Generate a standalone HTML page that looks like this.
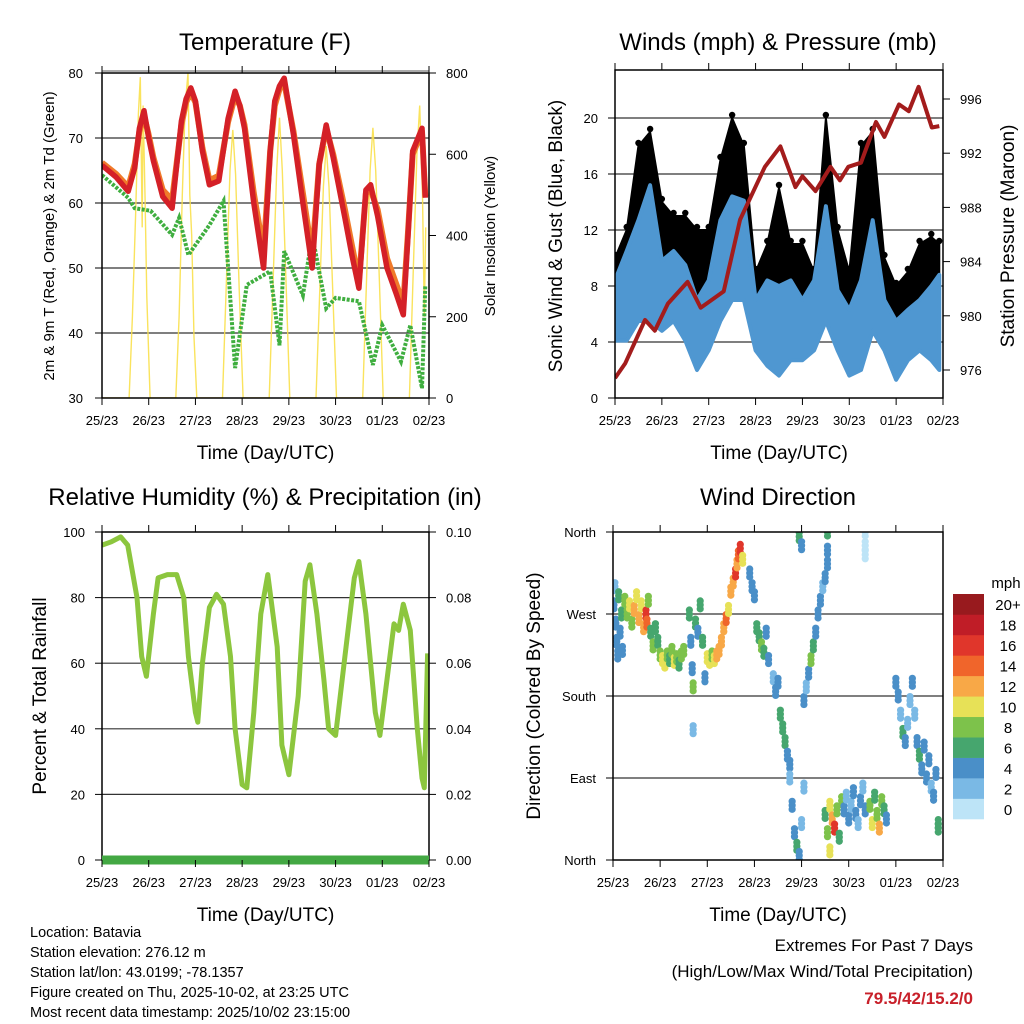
<!DOCTYPE html>
<html><head><meta charset="utf-8"><style>
html,body{margin:0;padding:0;background:#fff;}
svg{display:block;font-family:"Liberation Sans",Arial,sans-serif;}
</style></head><body>
<svg id="chart" width="1024" height="1024" viewBox="0 0 1024 1024" xmlns="http://www.w3.org/2000/svg">
<defs>
<clipPath id="c1"><rect x="102" y="73" width="327" height="325"/></clipPath>
<clipPath id="c2"><rect x="615" y="70" width="328" height="328"/></clipPath>
<clipPath id="c3"><rect x="102" y="532" width="327" height="328"/></clipPath>
<clipPath id="c4"><rect x="613" y="532" width="330" height="328"/></clipPath>
</defs>
<g id="root"></g>
</svg>
<script>
// ---------- DATA ----------
const dayLabels = ["25/23","26/23","27/23","28/23","29/23","30/23","01/23","02/23"];
// Temperature (F)
const tempT = [0,0.3,0.56,0.7,0.8,0.9,1.0,1.1,1.3,1.5,1.7,1.8,1.9,2.0,2.15,2.3,2.5,2.7,2.85,2.95,3.05,3.25,3.46,3.6,3.7,3.8,3.9,4.1,4.3,4.5,4.65,4.8,4.95,5.2,5.35,5.5,5.65,5.75,5.9,6.1,6.3,6.45,6.55,6.65,6.85,6.92];
const tempRed = [65.8,64,61.8,65.4,71.5,74.2,70,66.5,61,59.2,72.6,76,77.7,75.7,68,62.8,63.4,73,77.2,75,71.5,60,50,68,75.7,78,79.2,70.5,60,50,66,72,67,57.7,52,46.9,62,62.8,58,50,46,42.8,55,68,71.5,60.8];
const tempOrange = [66.2,64.5,62.5,66,71,73.5,70.5,67,62,60.5,72,75.5,77,75.5,68.5,63.5,64.2,72.5,76.5,75,72,61.5,52.5,68,75,77.5,78.5,71,61.5,52,66,71.5,67.5,59,53.5,48,61.5,62,59,51.5,47.5,44.5,55.5,67.5,71,61];
const dewT = [0,0.56,0.7,1.04,1.5,1.65,1.85,2.3,2.6,2.85,3.1,3.6,3.8,3.9,4.3,4.5,4.8,5.0,5.5,5.8,6.0,6.4,6.6,6.85,6.92];
const dewVal = [64.3,60.8,59.2,58.8,55.1,57.7,52,56.6,60.3,34.6,47.4,49.5,38.1,52.6,45.8,55.1,43.8,45.4,44.9,35.1,41.2,35.6,41.2,31.5,47.4];
const solarT = [0,0.58,0.65,0.72,0.78,0.82,0.86,0.88,0.92,0.96,1.03,1.58,1.65,1.72,1.78,1.84,1.88,1.92,1.97,2.03,2.58,2.66,2.74,2.8,2.86,2.94,3.02,3.58,3.66,3.74,3.8,3.86,3.94,4.02,4.58,4.66,4.74,4.8,4.86,4.94,5.02,5.58,5.66,5.74,5.8,5.86,5.94,6.02,6.58,6.66,6.74,6.8,6.86,6.9,6.93];
const solarW = [0,0,200,450,700,790,420,720,500,250,0,0,200,500,720,800,500,400,150,0,0,280,560,660,550,260,0,0,280,560,690,560,280,0,0,260,520,620,520,260,0,0,280,560,665,560,280,0,0,300,600,720,500,200,420];
// Winds (mph) & Pressure (mb)
const windT = [0,0.25,0.5,0.75,1.0,1.25,1.5,1.75,2.0,2.25,2.5,2.75,3.0,3.25,3.5,3.75,4.0,4.25,4.5,4.75,5.0,5.25,5.5,5.75,6.0,6.25,6.5,6.75,6.92];
const windLo = [4.1,4.1,5.5,5.5,4.8,5.5,4.1,2.0,3.4,5.5,7,7,3.4,2.3,1.6,2.7,2.7,3.4,5.5,3.4,1.6,2.0,4.8,3.4,1.3,2.7,3.4,2.7,2.0];
const windHi = [8.4,10.5,12.7,15.2,9.8,10.5,9.5,7,8.4,12.7,14.4,14.1,7,8.4,8,8.4,7,8.4,13.7,7.7,6.3,8.4,12.7,7,5.5,6.3,7,8,8.8];
const gustLo = [7,6,10,9,7,8,7,6,7,10,12,9,5,5,7,5,5,5,9,5,4,8,9,4,4,4,5,6,5];
const gustHi = [10,12,18,19,14,13,13,12,12,17,20,18,9,11,15,11,11,9,20,12,9,18,19,10,8,9,11,11.5,11];
const presT = [0,0.22,0.64,0.85,1.13,1.55,1.83,2.32,2.67,3.2,3.53,3.85,4.0,4.28,4.6,4.8,4.98,5.25,5.57,5.75,6.06,6.27,6.48,6.76,6.92];
const presVal = [975.4,976.5,979.7,978.9,980.9,982.5,980.6,981.8,987.1,991,992.5,989.5,990.3,989.2,991,990,991,991.3,994.3,993.2,995.6,995.1,996.9,993.9,994];
// Relative humidity (%)
const rhT = [0,0.2,0.4,0.55,0.75,0.85,0.95,1.1,1.2,1.4,1.6,1.75,1.85,2.0,2.05,2.15,2.3,2.45,2.6,2.75,2.85,3.0,3.1,3.25,3.4,3.55,3.75,3.85,4.0,4.2,4.35,4.45,4.6,4.75,4.85,5.0,5.2,5.4,5.5,5.65,5.85,5.95,6.1,6.25,6.35,6.45,6.6,6.75,6.85,6.9,6.97];
const rhVal = [96,97,98.5,96,80,62,56,75,86,87,87,80,62,45,42,60,77,81,78,62,40,23,22,45,75,87,65,35,26,50,85,90,75,55,40,38,62,86,91,75,45,38,55,72,70,78,70,40,25,22,63];
const precipT = [0,7];
const precipVal = [0,0];
// Wind direction: time(days), direction(deg), speed(mph)
const dirT = [0.02,0.04,0.06,0.08,0.1,0.12,0.15,0.18,0.2,0.25,0.3,0.35,0.4,0.45,0.5,0.55,0.6,0.65,0.7,0.72,0.75,0.8,0.85,0.9,0.95,1.0,1.05,1.1,1.15,1.2,1.25,1.3,1.35,1.4,1.45,1.5,1.62,1.65,1.68,1.7,1.75,1.8,1.85,1.9,1.95,1.7,2.0,2.05,2.1,2.15,2.2,2.25,2.3,2.35,2.4,2.45,2.5,2.55,2.6,2.63,2.66,2.7,2.75,2.9,2.95,3.0,3.05,3.1,3.15,3.2,3.25,3.3,3.4,3.45,3.5,3.55,3.6,3.65,3.7,3.75,3.75,3.8,3.85,3.9,3.95,4.0,4.05,3.95,4.0,4.55,4.55,4.05,4.1,4.15,4.2,4.25,4.3,4.35,4.4,4.45,4.5,4.55,4.5,4.55,4.6,4.65,4.7,4.75,4.8,4.85,4.6,4.9,4.95,5.0,5.05,5.1,5.15,5.2,5.25,5.3,5.35,5.45,5.5,5.55,5.6,5.65,5.7,5.75,5.8,5.35,5.35,5.35,6.0,6.05,6.1,6.15,6.2,6.25,6.3,6.35,6.4,6.45,6.5,6.55,6.6,6.65,6.7,6.75,6.8,6.85,6.9,6.9];
const dirDeg = [280,300,260,240,225,290,250,270,230,285,270,280,260,275,290,265,280,255,270,260,285,250,235,255,240,225,220,215,225,220,230,218,222,215,225,230,270,240,210,190,260,250,280,240,200,143,222,218,225,220,225,230,240,255,265,275,295,305,315,325,335,342,330,315,300,290,255,245,235,228,250,220,200,185,195,160,145,130,115,105,90,60,30,15,5,40,80,355,345,360,340,175,190,205,220,235,250,270,285,300,310,325,50,30,60,45,35,55,25,65,10,55,70,45,60,75,50,40,65,80,55,60,40,70,50,35,65,55,45,360,345,335,195,180,160,140,130,150,175,195,160,130,115,100,125,90,110,80,70,95,35,40];
const dirSpd = [4,3,4,5,4,6,5,7,4,8,9,10,8,12,11,13,10,12,16,15,9,7,8,6,7,9,10,10,8,7,9,10,8,6,9,8,6,4,5,8,7,5,6,6,5,2,10,10,9,11,12,13,12,13,14,11,12,13,16,12,14,17,10,4,4,5,6,7,8,6,5,4,3,5,4,6,7,6,5,4,3,4,5,6,4,3,2,6,4,6,4,4,3,5,8,6,5,4,4,3,4,4,7,9,10,12,16,8,7,9,10,4,3,4,2,4,4,2,4,3,4,8,10,7,9,12,8,6,4,1,1,1,4,4,3,6,4,2,2,4,3,4,6,4,5,4,4,3,4,4,6,7];
const cbLabels = ["0","2","4","6","8","10","12","14","16","18","20+"];
const cbColors = ["#bde4f7","#7ab9e5","#4a8fc8","#46a66e","#7dc24b","#e7e157","#f8a847","#f0652b","#e0362b","#c01d27","#981a1e"];

// ---------- HELPERS ----------
const NS="http://www.w3.org/2000/svg";
const root=document.getElementById('root');
function mk(tag,attrs,parent){const e=document.createElementNS(NS,tag);for(const k in attrs)e.setAttribute(k,attrs[k]);(parent||root).appendChild(e);return e;}
function txt(s,x,y,size,anchor,parent,extra){const e=mk('text',Object.assign({x:x,y:y,'font-size':size,'text-anchor':anchor||'middle',fill:'#000'},extra||{}),parent);e.textContent=s;return e;}
function lin(d0,d1,r0,r1){return v=>r0+(v-d0)*(r1-r0)/(d1-d0);}
function poly(xs,ys){return xs.map((x,i)=>x.toFixed(1)+','+ys[i].toFixed(1)).join(' ');}

function frame(g,x0,x1,y0,y1){
  const f=mk('rect',{x:x0,y:y0,width:x1-x0,height:y1-y0,fill:'none',stroke:'#000','stroke-width':1.5},g);
  
  
}
function xAxis(g,x0,x1,y0,y1){
  const xs=lin(0,7,x0,x1);
  dayLabels.forEach((d,i)=>{
    const x=xs(i);
    mk('line',{x1:x,x2:x,y1:y1,y2:y1+7,stroke:'#000','stroke-width':1},g);
    mk('line',{x1:x,x2:x,y1:y0,y2:y0-7,stroke:'#000','stroke-width':1},g);
    const t=txt(d,x,y1+27,13,'middle',g);
    
    
  });
  const a=txt('Time (Day/UTC)',(x0+x1)/2,y1+61,19,'middle',g);
  
  
}
function hgrid(g,x0,x1,y,col){mk('line',{x1:x0,x2:x1,y1:y,y2:y,stroke:col||'#222','stroke-width':1.2},g);}

// ---------- PANEL 1: TEMPERATURE ----------
(function(){
  const g=mk('g',{});
  
  
  const x0=102,x1=429,y0=73,y1=398;
  const xs=lin(0,7,x0,x1), ys=lin(30,80,y1,y0), ysr=lin(0,800,y1,y0);
  [40,50,60,70].forEach(v=>hgrid(g,x0,x1,ys(v),'#333'));
  mk('line',{x1:x0,x2:x1,y1:y0-2,y2:y0-2,stroke:'#555','stroke-width':1},g);
  const pc=mk('g',{'clip-path':'url(#c1)'},g);
  const sol=mk('polyline',{points:poly(solarT.map(xs),solarW.map(ysr)),fill:'none',stroke:'#f9e04b','stroke-width':1.4,'stroke-opacity':0.9},pc);
  
  
  const dew=mk('polyline',{points:poly(dewT.map(xs),dewVal.map(ys)),fill:'none',stroke:'#3fae3f','stroke-width':4,'stroke-dasharray':'3 1.5'},pc);
  
  
  const or=mk('polyline',{points:poly(tempT.map(xs),tempOrange.map(ys)),fill:'none',stroke:'#f07a2a','stroke-width':6,'stroke-linejoin':'round'},pc);
  
  
  const rd=mk('polyline',{points:poly(tempT.map(xs),tempRed.map(ys)),fill:'none',stroke:'#d42027','stroke-width':5.5,'stroke-linejoin':'round'},pc);
  
  
  frame(g,x0,x1,y0,y1);
  [30,40,50,60,70,80].forEach(v=>{
    mk('line',{x1:x0-7,x2:x0,y1:ys(v),y2:ys(v),stroke:'#000'},g);
    const t=txt(String(v),x0-19,ys(v)+5,13,'end',g);
    
    
  });
  [0,200,400,600,800].forEach(v=>{
    mk('line',{x1:x1,x2:x1+7,y1:ysr(v),y2:ysr(v),stroke:'#000'},g);
    const t=txt(String(v),x1+17,ysr(v)+5,13,'start',g);
    
    
  });
  xAxis(g,x0,x1,y0,y1);
  const ti=txt('Temperature (F)',265,50,24,'middle',g);
  
  
  const yl=txt('2m & 9m T (Red, Orange) & 2m Td (Green)',0,0,15,'middle',g,{transform:'translate(54,236) rotate(-90)'});
  
  
  const yr=txt('Solar Insolation (Yellow)',0,0,15,'middle',g,{transform:'translate(495,236) rotate(-90)'});
  
  
})();

// ---------- PANEL 2: WINDS & PRESSURE ----------
(function(){
  const g=mk('g',{});
  
  
  const x0=615,x1=943,y0=70,y1=398;
  const xs=lin(0,7,x0,x1), ys=lin(0,4,y1,342), ysr=lin(976,996,370,99);
  [4,8,12,16,20].forEach(v=>hgrid(g,x0,x1,ys(v),'#333'));
  const pc=mk('g',{'clip-path':'url(#c2)'},g);
  const gp=mk('polygon',{points:poly(windT.map(xs).concat(windT.map(xs).reverse()),gustHi.map(ys).concat(gustLo.map(ys).reverse())),fill:'#000',stroke:'#000','stroke-width':2,'stroke-linejoin':'round'},pc);
  
  
  windT.forEach((t,i)=>{
    const c=mk('circle',{cx:xs(t),cy:ys(gustHi[i])-3,r:3.2,fill:'#000'},pc);
    
    
  });
  const wp=mk('polygon',{points:poly(windT.map(xs).concat(windT.map(xs).reverse()),windHi.map(ys).concat(windLo.map(ys).reverse())),fill:'#4f97d1',stroke:'#4f97d1','stroke-width':4,'stroke-linejoin':'round'},pc);
  
  
  const pr=mk('polyline',{points:poly(presT.map(xs),presVal.map(ysr)),fill:'none',stroke:'#a31c1c','stroke-width':4,'stroke-linejoin':'round'},pc);
  
  
  frame(g,x0,x1,y0,y1);
  [0,4,8,12,16,20].forEach(v=>{
    mk('line',{x1:x0-7,x2:x0,y1:ys(v),y2:ys(v),stroke:'#000'},g);
    const t=txt(String(v),x0-17,ys(v)+5,13,'end',g);
    
    
  });
  [976,980,984,988,992,996].forEach(v=>{
    mk('line',{x1:x1,x2:x1+7,y1:ysr(v),y2:ysr(v),stroke:'#000'},g);
    const t=txt(String(v),x1+17,ysr(v)+5,13,'start',g);
    
    
  });
  xAxis(g,x0,x1,y0,y1);
  const ti=txt('Winds (mph) & Pressure (mb)',778,50,24,'middle',g);
  
  
  const yl=txt('Sonic Wind & Gust (Blue, Black)',0,0,19,'middle',g,{transform:'translate(562,236) rotate(-90)'});
  
  
  const yr=txt('Station Pressure (Maroon)',0,0,19,'middle',g,{transform:'translate(1014,236) rotate(-90)'});
  
  
})();

// ---------- PANEL 3: RH & PRECIP ----------
(function(){
  const g=mk('g',{});
  
  
  const x0=102,x1=429,y0=532,y1=860;
  const xs=lin(0,7,x0,x1), ys=lin(0,100,y1,y0), ysr=lin(0,0.1,y1,y0);
  [20,40,60,80].forEach(v=>hgrid(g,x0,x1,ys(v),'#333'));
  const pc=mk('g',{'clip-path':'url(#c3)'},g);
  const rh=mk('polyline',{points:poly(rhT.map(xs),rhVal.map(ys)),fill:'none',stroke:'#8cc63e','stroke-width':5,'stroke-linejoin':'round'},pc);
  
  
  frame(g,x0,x1,y0,y1);
  const pp=mk('polyline',{points:poly(precipT.map(xs),precipVal.map(ysr)),fill:'none',stroke:'#43a843','stroke-width':9},g);
  
  
  [0,20,40,60,80,100].forEach(v=>{
    mk('line',{x1:x0-7,x2:x0,y1:ys(v),y2:ys(v),stroke:'#000'},g);
    const t=txt(String(v),x0-17,ys(v)+5,13,'end',g);
    
    
  });
  ['0.00','0.02','0.04','0.06','0.08','0.10'].forEach(s=>{
    const v=parseFloat(s);
    mk('line',{x1:x1,x2:x1+7,y1:ysr(v),y2:ysr(v),stroke:'#000'},g);
    const t=txt(s,x1+17,ysr(v)+5,13,'start',g);
    
    
  });
  xAxis(g,x0,x1,y0,y1);
  const ti=txt('Relative Humidity (%) & Precipitation (in)',265,505,24,'middle',g);
  
  
  const yl=txt('Percent & Total Rainfall',0,0,19,'middle',g,{transform:'translate(46,696) rotate(-90)'});
  
  
})();

// ---------- PANEL 4: WIND DIRECTION ----------
(function(){
  const g=mk('g',{});
  
  
  const x0=613,x1=943,y0=532,y1=860;
  const xs=lin(0,7,x0,x1), ys=lin(0,360,y1,y0);
  [90,180,270].forEach(v=>hgrid(g,x0,x1,ys(v),'#333'));
  const pc=mk('g',{'clip-path':'url(#c4)'},g);
  dirT.forEach((t,i)=>{
    const idx=Math.min(10,Math.floor(dirSpd[i]/2));
    [-4,0,4].forEach(dy=>{
      const c=mk('circle',{cx:xs(t),cy:ys(dirDeg[i])+dy,r:3.6,fill:cbColors[idx]},pc);
      
      
    });
  });
  frame(g,x0,x1,y0,y1);
  [[0,'North'],[90,'East'],[180,'South'],[270,'West'],[360,'North']].forEach(p=>{
    mk('line',{x1:x0-7,x2:x0,y1:ys(p[0]),y2:ys(p[0]),stroke:'#000'},g);
    const t=txt(p[1],x0-17,ys(p[0])+5,13,'end',g);
    
    
  });
  xAxis(g,x0,x1,y0,y1);
  const ti=txt('Wind Direction',778,505,24,'middle',g);
  
  
  const yl=txt('Direction (Colored By Speed)',0,0,19,'middle',g,{transform:'translate(540,696) rotate(-90)'});
  
  
  const cb=mk('g',{},g);
  
  
  const bh=(819-594)/cbColors.length;
  cbColors.forEach((c,i)=>{
    const y=819-(i+1)*bh;
    const r=mk('rect',{x:953,y:y,width:31,height:bh+0.3,fill:c},cb);
    
    
    const t=txt(cbLabels[i],1008,y+bh/2+6,15,'middle',cb);
    
    
  });
  const u=txt('mph',1006,588,15,'middle',cb);
  
  
})();

// ---------- FOOTER ----------
(function(){
  const g=mk('g',{});
  
  
  const lines=['Location: Batavia','Station elevation: 276.12 m','Station lat/lon: 43.0199; -78.1357','Figure created on Thu, 2025-10-02, at 23:25 UTC','Most recent data timestamp: 2025/10/02 23:15:00'];
  lines.forEach((s,i)=>{
    const t=txt(s,30,937+i*20,14.5,'start',g);
    
    
  });
  const a=txt('Extremes For Past 7 Days',973,951,17,'end',g);
  
  
  const b=txt('(High/Low/Max Wind/Total Precipitation)',973,977,17,'end',g);
  
  
  const c=txt('79.5/42/15.2/0',973,1004,17,'end',g,{fill:'#c8202a','font-weight':'bold'});
  
  
})();
</script>
</body></html>
